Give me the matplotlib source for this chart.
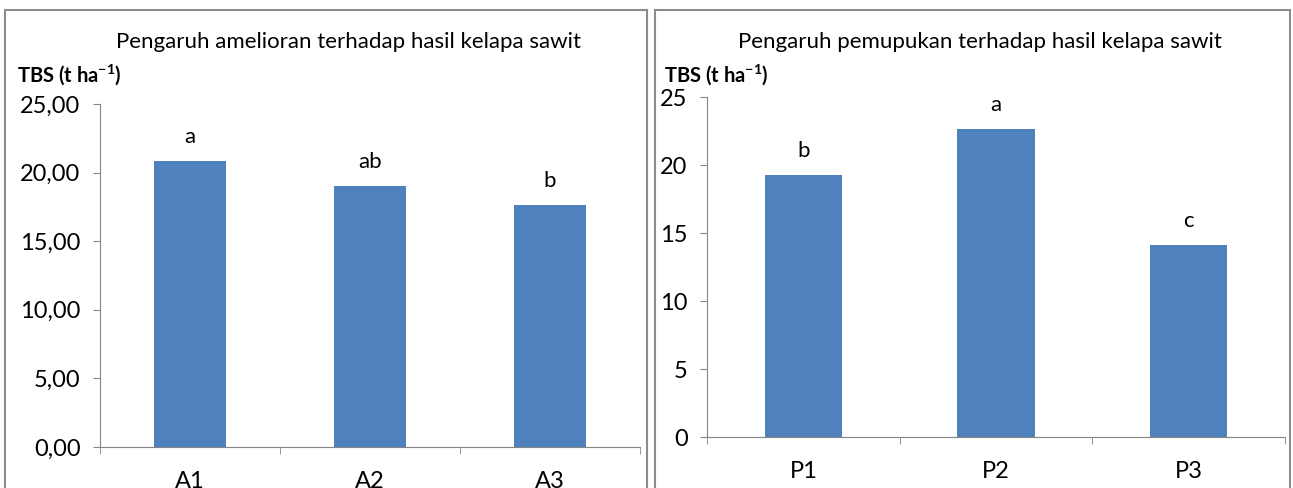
import matplotlib.pyplot as plt
from matplotlib.patches import Rectangle

plt.rcParams['font.family'] = ['Lato', 'DejaVu Sans']
plt.rcParams['mathtext.fontset'] = 'custom'
plt.rcParams['mathtext.rm'] = 'Lato'
plt.rcParams['mathtext.bf'] = 'Lato:bold'

# data
amel_labels = ['A1', 'A2', 'A3']
amel_values = [20.85, 19.02, 17.65]
amel_letters = ['a', 'ab', 'b']

pupuk_labels = ['P1', 'P2', 'P3']
pupuk_values = [19.27, 22.65, 14.12]
pupuk_letters = ['b', 'a', 'c']

bar_color = '#4f81bd'
axis_color = '#868686'

W, H = 1293, 488
fig = plt.figure(figsize=(W / 100, H / 100), dpi=100)

# panel frames (pixel coords -> figure fractions)
for x0, x1 in [(5, 647), (655, 1290)]:
    fig.patches.append(Rectangle((x0 / W, -0.05), (x1 - x0) / W, 1.05 - 10 / H,
                                 transform=fig.transFigure, fill=False,
                                 edgecolor='#8c8c8c', linewidth=1.5))


def draw_panel(rect, labels, values, letters, title, fmt, title_x, ylab_x):
    ax = fig.add_axes(rect)
    x = list(range(len(labels)))
    ax.bar(x, values, width=0.4, color=bar_color, zorder=2)
    for xi, v, t in zip(x, values, letters):
        ax.annotate(t, (xi, v), xytext=(0, 10), textcoords='offset points',
                    ha='center', va='bottom', fontsize=16)
    ax.set_xlim(-0.5, len(labels) - 0.5)
    ax.set_ylim(0, 25)
    ax.set_yticks([0, 5, 10, 15, 20, 25])
    ax.set_yticklabels([fmt(v) for v in [0, 5, 10, 15, 20, 25]])
    ax.set_xticks(x)
    ax.set_xticklabels(labels)
    ax.set_xticks([i - 0.5 for i in range(len(labels) + 1)], minor=True)
    ax.tick_params(axis='x', which='major', length=0, pad=17, labelsize=17)
    ax.tick_params(axis='x', which='minor', length=5, color=axis_color, direction='out')
    ax.tick_params(axis='y', length=5, color=axis_color, direction='out', pad=9, labelsize=17)
    for s in ['top', 'right']:
        ax.spines[s].set_visible(False)
    for s in ['left', 'bottom']:
        ax.spines[s].set_color(axis_color)
    fig.text(title_x / W, 1 - 42 / H, title, ha='center', va='center', fontsize=16)
    fig.text(ylab_x / W, 1 - 75 / H, r'TBS (t ha$^{\mathbf{-1}}$)', ha='left', va='center',
             fontsize=14.5, fontweight='bold')
    return ax


draw_panel([100 / W, 1 - 447 / H, 540 / W, 343 / H], amel_labels, amel_values, amel_letters,
           'Pengaruh amelioran terhadap hasil kelapa sawit',
           lambda v: f'{v:.2f}'.replace('.', ','), 349, 17)
draw_panel([707 / W, 1 - 437 / H, 578 / W, 340 / H], pupuk_labels, pupuk_values, pupuk_letters,
           'Pengaruh pemupukan terhadap hasil kelapa sawit',
           lambda v: f'{v:d}', 980, 664)

fig.savefig('out.png', dpi=100)
